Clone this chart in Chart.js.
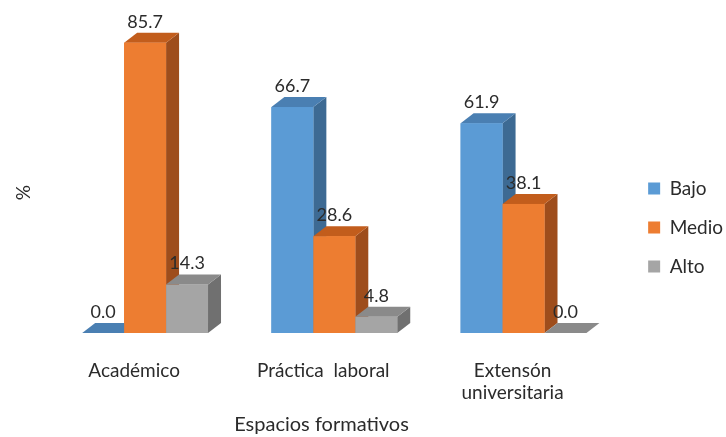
<!DOCTYPE html>
<html>
<head>
<meta charset="utf-8">
<script src="https://cdn.jsdelivr.net/npm/chart.js@4.4.1/dist/chart.umd.min.js"></script>
<style>
  html,body{margin:0;padding:0;background:#fff}
  #wrap{width:726px;height:437px;position:relative}
</style>
</head>
<body>
<div id="wrap"><canvas id="chart"></canvas></div>
<script>
// data
const categories = ['Académico', 'Práctica  laboral', ['Extensón', 'universitaria']];
const seriesNames = ['Bajo', 'Medio', 'Alto'];
const bajo = [0.0, 66.7, 61.9];
const medio = [85.7, 28.6, 38.1];
const alto = [14.3, 4.8, 0.0];

// front / top / side colours per series
const fronts = ['#5B9BD5', '#ED7D31', '#A5A5A5'];
const tops = ['#4A7FB2', '#C25D1C', '#8A8A8A'];
const sides = ['#3D6A93', '#9E4D1C', '#707070'];

const FONT = 'Lato';
const TEXT = '#2b2b2b';
const DX = 13, DY = 10; // fake depth of the 3d bars

// draws side + top faces, redraws front, then the value labels
const bars3d = {
  id: 'bars3d',
  afterDatasetsDraw(chart){
    const ctx = chart.ctx;
    const n = chart.data.labels.length;
    ctx.save();
    for(let i=0;i<n;i++){
      chart.data.datasets.forEach((ds, d)=>{
        const el = chart.getDatasetMeta(d).data[i];
        const l = el.x - el.width/2, r = el.x + el.width/2, t = el.y, b = el.base;
        // side
        ctx.fillStyle = sides[d];
        ctx.beginPath();
        ctx.moveTo(r, t); ctx.lineTo(r+DX, t-DY); ctx.lineTo(r+DX, b-DY); ctx.lineTo(r, b);
        ctx.closePath(); ctx.fill();
        // top
        ctx.fillStyle = tops[d];
        ctx.beginPath();
        ctx.moveTo(l, t); ctx.lineTo(l+DX, t-DY); ctx.lineTo(r+DX, t-DY); ctx.lineTo(r, t);
        ctx.closePath(); ctx.fill();
        // front
        ctx.fillStyle = fronts[d];
        ctx.fillRect(l, t, r-l, b-t);
      });
    }
    // value labels
    ctx.fillStyle = TEXT;
    ctx.font = '18px ' + FONT;
    ctx.textAlign = 'center';
    ctx.textBaseline = 'middle';
    chart.data.datasets.forEach((ds, d)=>{
      chart.getDatasetMeta(d).data.forEach((el, i)=>{
        ctx.fillText(ds.data[i].toFixed(1), el.x, el.y - 21);
      });
    });
    ctx.restore();
  }
};

new Chart(document.getElementById('chart'), {
  type: 'bar',
  data: {
    labels: categories,
    datasets: [
      { label: seriesNames[0], data: bajo, backgroundColor: fronts[0] },
      { label: seriesNames[1], data: medio, backgroundColor: fronts[1] },
      { label: seriesNames[2], data: alto, backgroundColor: fronts[2] }
    ]
  },
  options: {
    responsive: true,
    maintainAspectRatio: false,
    animation: false,
    layout: { padding: { left: 8, top: 18, right: -7, bottom: 0 } },
    datasets: { bar: { barPercentage: 1, categoryPercentage: 0.665, borderWidth: 0 } },
    plugins: {
      tooltip: { enabled: false },
      legend: {
        position: 'right',
        labels: {
          boxWidth: 12, boxHeight: 12, padding: 20,
          color: TEXT, font: { family: FONT, size: 19 }
        }
      }
    },
    scales: {
      x: {
        grid: { display: false, drawTicks: false },
        border: { display: false },
        ticks: { padding: 26, labelOffset: -11, color: TEXT, font: { family: FONT, size: 19 } },
        title: { display: true, text: 'Espacios formativos     ', color: TEXT, font: { family: FONT, size: 20 }, padding: { top: 4, bottom: 0 } },
        afterFit(s){ s.height = 104; }
      },
      y: {
        min: 0, max: 93,
        grid: { display: false, drawTicks: false },
        border: { display: false },
        ticks: { display: false },
        title: { display: true, text: '%       ', color: TEXT, font: { family: FONT, size: 19 } },
        afterFit(s){ s.width = 42.5; }
      },
      // empty right axis, leaves room for the bar depth before the legend
      depth: {
        position: 'right',
        grid: { display: false, drawTicks: false },
        border: { display: false },
        ticks: { display: false },
        afterFit(s){ s.width = 10; }
      }
    }
  },
  plugins: [bars3d]
});
</script>
</body>
</html>
